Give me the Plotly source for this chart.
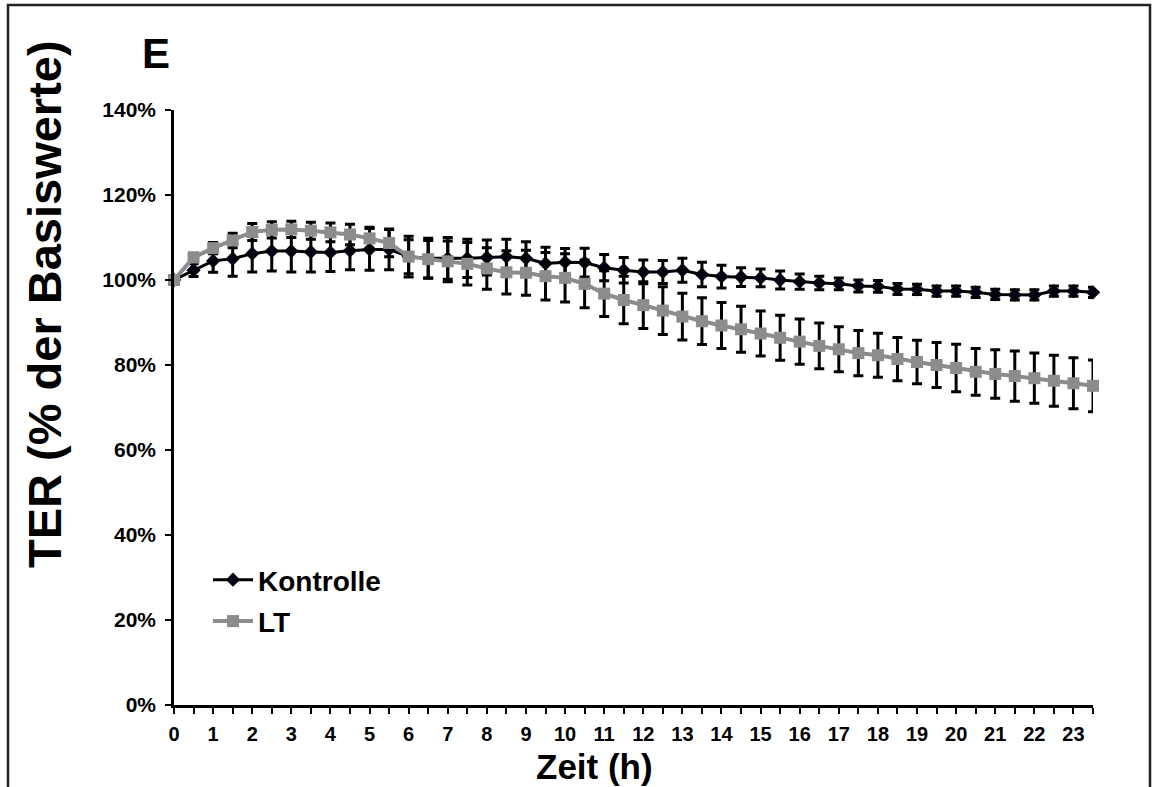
import plotly.graph_objects as go

# Time points (h), measured every 30 minutes
hours = [i * 0.5 for i in range(48)]
hour_labels = [str(int(h)) if h == int(h) else "" for h in hours]

# TER relative to baseline (%), mean and error
kontrolle = [100.0, 102.3, 104.5, 105.0, 106.2, 106.8, 106.8, 106.6, 106.5, 106.9,
             107.2, 107.2, 105.5, 105.1, 105.1, 105.1, 105.3, 105.5, 105.1, 103.9,
             104.2, 104.1, 102.9, 102.3, 101.9, 101.9, 102.3, 101.3, 100.8, 100.7,
             100.5, 100.0, 99.6, 99.3, 99.1, 98.6, 98.5, 97.9, 97.8, 97.4,
             97.4, 97.1, 96.6, 96.5, 96.5, 97.4, 97.4, 97.1]
kontrolle_err = [0.0, 1.5, 2.7, 4.1, 4.3, 4.7, 4.9, 4.7, 4.5, 4.5,
                 4.9, 4.8, 4.8, 4.7, 4.9, 4.5, 4.1, 4.1, 3.9, 3.8,
                 3.2, 3.4, 3.1, 3.0, 2.8, 2.7, 2.8, 2.9, 2.7, 2.2,
                 2.1, 2.1, 1.8, 1.6, 1.4, 1.4, 1.4, 1.3, 1.2, 1.2,
                 1.2, 1.2, 1.2, 1.2, 1.2, 1.2, 1.2, 1.2]
lt = [100.0, 105.3, 107.5, 109.3, 111.3, 111.8, 111.9, 111.6, 111.2, 110.7,
      109.8, 108.7, 105.5, 104.9, 104.4, 103.8, 102.7, 101.8, 101.7, 100.9,
      100.5, 99.1, 96.8, 95.3, 94.1, 92.8, 91.4, 90.3, 89.3, 88.4,
      87.4, 86.4, 85.5, 84.5, 83.7, 82.8, 82.3, 81.4, 80.7, 80.0,
      79.3, 78.4, 77.9, 77.4, 76.9, 76.3, 75.7, 75.1]
lt_err = [0.0, 1.0, 1.3, 1.7, 2.0, 1.9, 1.9, 2.0, 2.2, 2.4,
          2.6, 3.2, 4.0, 4.4, 4.8, 5.0, 4.9, 5.1, 5.3, 5.6,
          5.7, 5.6, 5.4, 5.6, 5.5, 5.6, 5.5, 5.5, 5.4, 5.4,
          5.3, 5.3, 5.3, 5.4, 5.3, 5.3, 5.2, 5.1, 5.1, 5.3,
          5.6, 5.5, 5.7, 5.9, 5.9, 6.0, 6.0, 6.1]

y_ticks = [0, 20, 40, 60, 80, 100, 120, 140]
y_tick_labels = ["0%", "20%", "40%", "60%", "80%", "100%", "120%", "140%"]

FONT = "Liberation Sans, Arial, sans-serif"

fig = go.Figure()

fig.add_trace(go.Scatter(
    x=hours, y=kontrolle, name="Kontrolle", mode="lines+markers",
    line=dict(color="#000000", width=3),
    marker=dict(symbol="diamond", size=11, color="#02020e"),
    error_y=dict(type="data", array=kontrolle_err, visible=True,
                 color="#000000", thickness=3, width=5),
    cliponaxis=False, legendgroup="k",
))

fig.add_trace(go.Scatter(
    x=hours, y=lt, name="LT", mode="lines+markers",
    line=dict(color="#8c8c8c", width=4),
    marker=dict(symbol="square", size=12, color="#8c8c8c"),
    error_y=dict(type="data", array=lt_err, visible=True,
                 color="#000000", thickness=3, width=5),
    cliponaxis=False, legendgroup="lt",
))

# pixel -> paper helpers for the plot box (174..1093 x, 705..110 y)
L, R, T, B = 174, 1093, 110, 705
def px(x):
    return (x - L) / (R - L)
def py(y):
    return (B - y) / (B - T)

fig.update_layout(
    width=1161, height=787,
    margin=dict(l=L, r=1161 - R, t=T, b=787 - B),
    paper_bgcolor="white", plot_bgcolor="white",
    font=dict(family=FONT, color="black", weight="bold"),
    showlegend=True,
    legend=dict(x=px(208), y=py(555), xanchor="left", yanchor="top",
                font=dict(family=FONT, size=28, weight="bold", color="black"),
                bgcolor="rgba(0,0,0,0)", tracegroupgap=2, itemwidth=40),
    xaxis=dict(range=[0, 23.5], tickvals=hours, ticktext=hour_labels,
               showgrid=False, zeroline=False, showline=True,
               linecolor="black", linewidth=2.5,
               ticks="outside", ticklen=6, tickwidth=2, tickcolor="black",
               ticklabelstandoff=3,
               tickfont=dict(family=FONT, size=20, weight="bold", color="black")),
    yaxis=dict(range=[0, 140], tickvals=y_ticks, ticktext=y_tick_labels,
               showgrid=False, zeroline=False, showline=True,
               linecolor="black", linewidth=2.5,
               ticks="outside", ticklen=6, tickwidth=2, tickcolor="black",
               ticklabelstandoff=5,
               tickfont=dict(family=FONT, size=21, weight="bold", color="black")),
    annotations=[
        dict(text="TER (% der Basiswerte)", textangle=-90, showarrow=False,
             xref="paper", yref="paper", x=px(44), y=py(304),
             xanchor="center", yanchor="middle",
             font=dict(family=FONT, size=47, weight="bold", color="black")),
        dict(text="Zeit (h)", showarrow=False,
             xref="paper", yref="paper", x=px(594), y=py(766),
             xanchor="center", yanchor="middle",
             font=dict(family=FONT, size=35, weight="bold", color="black")),
        dict(text="E", showarrow=False,
             xref="paper", yref="paper", x=px(156), y=py(54),
             xanchor="center", yanchor="middle",
             font=dict(family=FONT, size=42, weight="bold", color="black")),
    ],
    shapes=[
        dict(type="rect", xref="paper", yref="paper",
             x0=px(8), x1=px(1150), y0=py(830), y1=py(5),
             line=dict(color="#222222", width=2.5), fillcolor="rgba(0,0,0,0)"),
    ],
)

fig.write_html("out.html")
